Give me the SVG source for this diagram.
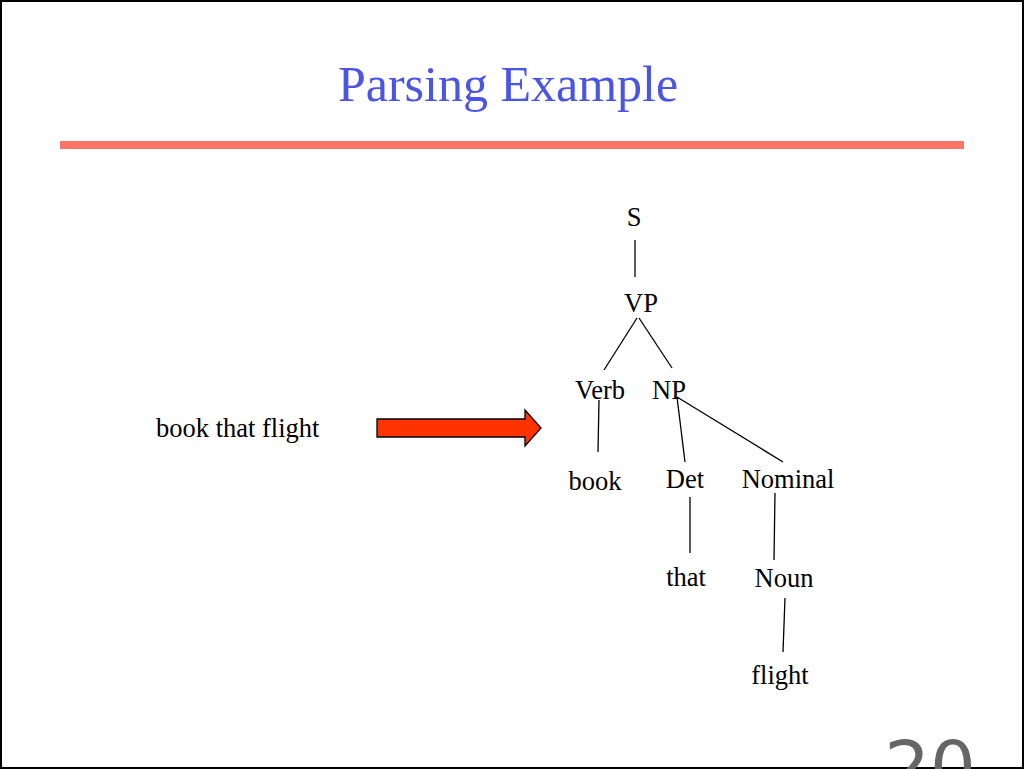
<svg xmlns="http://www.w3.org/2000/svg" width="1024" height="769" viewBox="0 0 1024 769">
<style>
.t{font-family:"Liberation Serif",serif;font-size:26.5px;fill:#000}
.e{stroke:#000;stroke-width:1.3;fill:none}
</style>
<rect x="1" y="1" width="1022" height="767" fill="#fff" stroke="#000" stroke-width="2"/>
<text x="508" y="101" text-anchor="middle" font-family="Liberation Serif,serif" font-size="50" fill="#4a55e6">Parsing Example</text>
<rect x="60" y="141" width="904" height="8" fill="#ff7468"/>
<text x="930" y="792" text-anchor="middle" font-family="DejaVu Sans,sans-serif" font-size="72" fill="#666">20</text>
<text class="t" x="156" y="437">book that flight</text>
<path d="M377,419 H525 V410 L541,428 L525,446 V437 H377 Z" fill="#ff3300" stroke="#000" stroke-width="1.3"/>
<g id="connectors">
<line class="e" x1="635" y1="240" x2="635" y2="277"/>
<line class="e" x1="637" y1="318" x2="604" y2="370"/>
<line class="e" x1="639" y1="318" x2="672" y2="368"/>
<line class="e" x1="599" y1="400" x2="598" y2="452"/>
<line class="e" x1="677" y1="397" x2="685" y2="462"/>
<line class="e" x1="677" y1="397" x2="783" y2="462"/>
<line class="e" x1="690" y1="497" x2="690" y2="553"/>
<line class="e" x1="775" y1="493" x2="774" y2="560"/>
<line class="e" x1="785" y1="598" x2="783" y2="652"/>
</g>
<g id="S"><text class="t" x="634" y="226" text-anchor="middle">S</text></g>
<g id="VP"><text class="t" x="641" y="312" text-anchor="middle">VP</text></g>
<g id="Verb"><text class="t" x="600" y="399" text-anchor="middle">Verb</text></g>
<g id="NP"><text class="t" x="669" y="399" text-anchor="middle">NP</text></g>
<g id="book"><text class="t" x="595" y="490" text-anchor="middle">book</text></g>
<g id="Det"><text class="t" x="685" y="488" text-anchor="middle">Det</text></g>
<g id="Nominal"><text class="t" x="788" y="488" text-anchor="middle">Nominal</text></g>
<g id="that"><text class="t" x="686" y="586" text-anchor="middle">that</text></g>
<g id="Noun"><text class="t" x="784" y="587" text-anchor="middle">Noun</text></g>
<g id="flight"><text class="t" x="780" y="684" text-anchor="middle">flight</text></g>
</svg>
